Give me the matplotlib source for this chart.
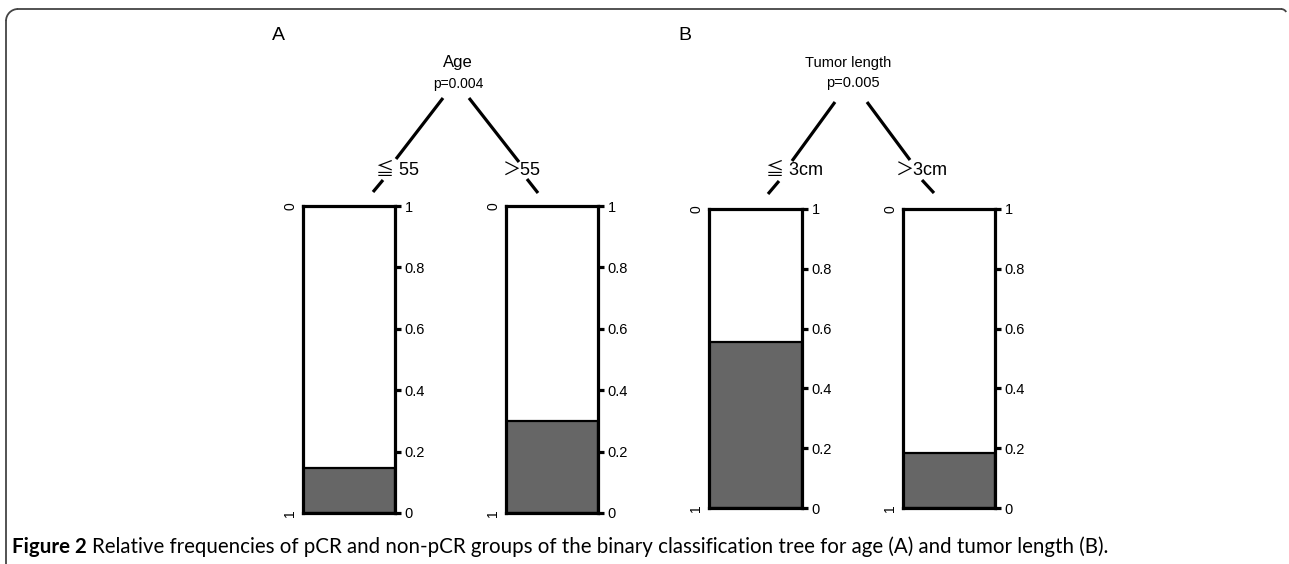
"""
Relative frequencies of pCR / non-pCR in the binary classification trees
for age (A) and tumor length (B).
"""

import matplotlib
matplotlib.use("Agg")
import matplotlib.pyplot as plt
from matplotlib.patches import Arc

# data: share of the shaded (lower) group in each terminal node
node_labels = ["≦ 55", "＞55", "≦ 3cm", "＞3cm"]
shaded_freq = [0.145, 0.30, 0.555, 0.185]
split_names = ["Age", "Tumor length"]
split_pvals = ["p=0.004", "p=0.005"]
panel_letters = ["A", "B"]
right_ticks = [0, 0.2, 0.4, 0.6, 0.8, 1]
right_tick_labels = ["0", "0.2", "0.4", "0.6", "0.8", "1"]

W, H = 1289, 564
DPI = 100
LABEL_FONT = ["Liberation Sans", "Noto Sans CJK SC", "DejaVu Sans"]
NARROW_FONT = ["Liberation Sans Narrow", "Liberation Sans"]

# box rectangles in pixels: left, top, right, bottom
boxes = [(303, 206, 395, 513), (506, 206, 598, 513),
         (709, 209, 802, 508), (903, 209, 995, 508)]

fig = plt.figure(figsize=(W / DPI, H / DPI), dpi=DPI)

# overlay in pixel coordinates for the tree, letters, caption and frame
ov = fig.add_axes([0, 0, 1, 1])
ov.set_xlim(0, W)
ov.set_ylim(H, 0)
ov.axis("off")

line_kw = dict(color="black", lw=2.3, solid_capstyle="butt")

# tree A
ov.text(278, 35, panel_letters[0], fontsize=14, ha="center", va="center", family=LABEL_FONT)
ov.text(458, 63, split_names[0], fontsize=12, ha="center", va="center", family=LABEL_FONT)
ov.text(458, 84, split_pvals[0], fontsize=10, ha="center", va="center", family=NARROW_FONT)
ov.plot([443, 396], [98, 159], **line_kw)
ov.plot([469, 519], [98, 162], **line_kw)
ov.plot([383, 373], [180, 192], **line_kw)
ov.plot([527, 538], [179, 193], **line_kw)

# tree B
ov.text(685, 36, panel_letters[1], fontsize=14, ha="center", va="center", family=LABEL_FONT)
ov.text(848, 63, split_names[1], fontsize=10.5, ha="center", va="center", family=NARROW_FONT)
ov.text(853, 83, split_pvals[1], fontsize=10.5, ha="center", va="center", family=NARROW_FONT)
ov.plot([835, 792], [102, 161], **line_kw)
ov.plot([867, 910], [102, 160], **line_kw)
ov.plot([779, 768], [181, 194], **line_kw)
ov.plot([922, 934], [180, 193], **line_kw)

# node labels
label_pos = [(398, 171), (522, 171), (795, 171), (922, 171)]
for (x, y), lab in zip(label_pos, node_labels):
    ov.text(x, y, lab, fontsize=13, ha="center", va="center", family=LABEL_FONT)

# rounded frame (left and top); y axis is inverted here
fc = "#444444"
r = 12
ov.plot([6, 6], [H, 9 + r], color=fc, lw=1.3)
ov.add_patch(Arc((6 + r, 9 + r), 2 * r, 2 * r, theta1=180, theta2=270, color=fc, lw=1.3))
ov.plot([6 + r, 1281], [9, 9], color=fc, lw=1.3)
ov.add_patch(Arc((1281, 9 + 6), 12, 12, theta1=270, theta2=330, color=fc, lw=1.3))

# caption
cap_y = 547
t1 = ov.text(12, cap_y, "Figure 2", fontsize=14.8, fontweight="bold", ha="left", va="center",
             family="Lato")
fig.canvas.draw()
bb = t1.get_window_extent(fig.canvas.get_renderer())
ov.text(bb.x1 + 5, cap_y,
        "Relative frequencies of pCR and non-pCR groups of the binary classification tree "
        "for age (A) and tumor length (B).",
        fontsize=14.8, ha="left", va="center", family="Lato")

# stacked frequency boxes
for (l, t, rgt, b), val in zip(boxes, shaded_freq):
    ax = fig.add_axes([l / W, 1 - b / H, (rgt - l) / W, (b - t) / H])
    ax.bar([0], [val], width=1, color="#666666", edgecolor="black", linewidth=1.6)
    ax.set_xlim(-0.5, 0.5)
    ax.set_ylim(0, 1)
    ax.set_xticks([])
    for s in ax.spines.values():
        s.set_linewidth(2.3)
        s.set_color("black")
    ax.yaxis.tick_right()
    ax.set_yticks(right_ticks)
    ax.set_yticklabels(right_tick_labels, fontsize=10.5, family="Liberation Sans")
    ax.tick_params(axis="y", length=4, width=2.3, pad=3)

    sec = ax.secondary_yaxis("left", functions=(lambda y: 1 - y, lambda y: 1 - y))
    sec.set_yticks([0, 1])
    sec.set_yticklabels(["0", "1"], rotation=90, va="center", fontsize=10,
                        family="Liberation Sans")
    sec.tick_params(length=0, pad=4)
    sec.spines["left"].set_visible(False)

fig.savefig("out.png", dpi=DPI)
